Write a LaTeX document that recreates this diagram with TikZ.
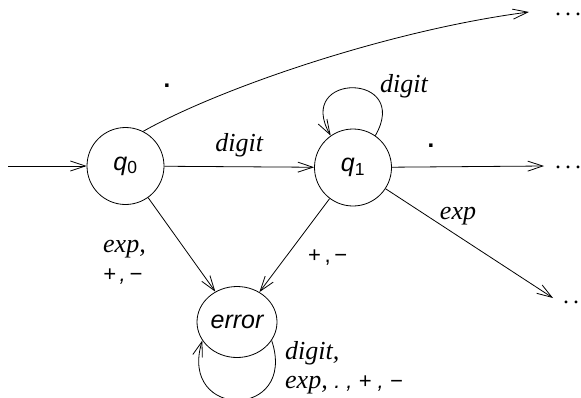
\documentclass[tikz,border=0pt]{standalone}
\usepackage{fontspec}
\setmainfont{Liberation Serif}
\setsansfont{Liberation Sans}
\usetikzlibrary{arrows.meta,shapes.geometric}
\newcommand\sym[1]{{\sffamily\fontsize{22}{26}\selectfont #1}}
\tikzset{
  state/.style={circle,draw,line width=0.8pt,minimum size=77pt,inner sep=0pt,
    font=\sffamily\itshape\fontsize{25}{29}\selectfont},
  edge/.style={line width=0.8pt,-{Straight Barb[length=15pt,width=10pt,line width=0.8pt]}},
  lbl/.style={font=\itshape\fontsize{26}{29}\selectfont,inner sep=0pt},
  dotlbl/.style={font=\fontsize{24}{29}\selectfont,inner sep=0pt,anchor=west},
  dotmark/.style={inner sep=0pt,font=\sffamily\bfseries\fontsize{24}{28}\selectfont},
}
\begin{document}
\begin{tikzpicture}[x=1pt,y=-1pt]
\useasboundingbox (0,0) rectangle (581,397);
\node[state] (q0) at (125.5,166) {q\textsubscript{\upshape 0}};
\node[state] (q1) at (353,167.5) {q\textsubscript{\upshape 1}};
\node[state,ellipse,minimum width=80pt,minimum height=71pt] (err) at (237,322) {error};
\coordinate (s) at (8,166);
\coordinate (e1) at (529,12);
\coordinate (e2) at (544,166);
\coordinate (e3) at (553,298);
\node[dotlbl] (d1) at (555,14) {.\,.\,.};
\node[dotlbl] (d2) at (555,167) {.\,.\,.};
\node[dotlbl] (d3) at (563,302) {.\,.\,.};
% edges
\draw[edge] (s) -- (q0);
\draw[edge] (q0) -- node[lbl,above=9pt] (l1) {digit} (q1);
\draw[edge] (q0.63) .. controls (220,88) and (390,30) .. (e1);
\node[dotmark] (l2) at (167,86) {.};
\draw[edge] (q1.55) .. controls (412,72) and (294,72) .. (q1.125);
\node[lbl] (l3) at (404,86) {digit};
\draw[edge] (q1) -- (e2);
\node[dotmark] (l4) at (431,146) {.};
\draw[edge] (q1) -- (e3);
\node[lbl] (l5) at (458,216) {exp};
\draw[edge] (q0) -- (err);
\node[lbl,align=left,anchor=west] (l6) at (103,262) {exp,\\\sym{+\,,\,\textminus}};
\draw[edge] (q1) -- (err);
\node[anchor=west,inner sep=0pt] (l7) at (308,258) {\sym{+\,,\,\textminus}};
\draw[edge] (err.-28) .. controls (298,420) and (178,420) .. (err.-152);
\node[lbl,align=left,anchor=west] (l8) at (285,368) {digit,\\exp, \sym{.\;,\;+\;,\;\textminus}};
\end{tikzpicture}
\end{document}
